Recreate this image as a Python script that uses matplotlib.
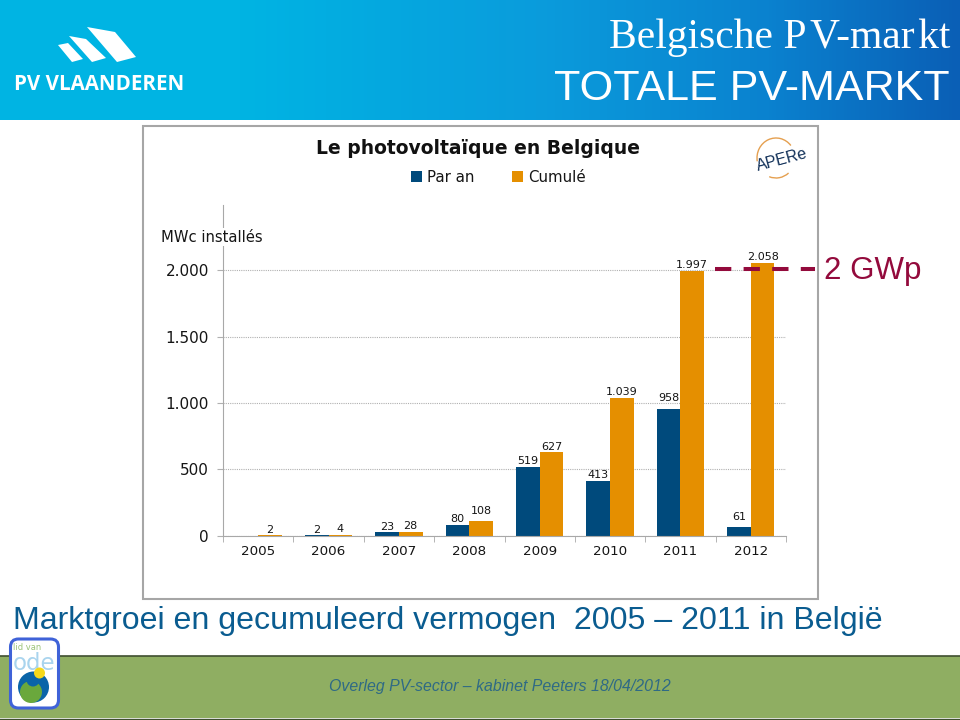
import numpy as np
import matplotlib
matplotlib.use("Agg")
import matplotlib.pyplot as plt
from matplotlib.colors import LinearSegmentedColormap
from matplotlib.patches import Polygon, Rectangle, FancyBboxPatch, Circle, Arc

# ===== data =====
years = ["2005", "2006", "2007", "2008", "2009", "2010", "2011", "2012"]
par_an = [0, 2, 23, 80, 519, 413, 958, 61]
cumule = [2, 4, 28, 108, 627, 1039, 1997, 2058]
y_ticks = [0, 500, 1000, 1500, 2000]
y_tick_labels = ["0", "500", "1.000", "1.500", "2.000"]

NAVY = "#004a7c"
ORANGE = "#e58f00"
TEXT = "#151515"
W, H = 960, 720


def dotted(v):
    return f"{v:,}".replace(",", ".")


fig = plt.figure(figsize=(9.6, 7.2), dpi=100, facecolor="white")

# ===== slide background, pixel coordinates =====
bg = fig.add_axes([0, 0, 1, 1])
bg.axis("off")

cmap = LinearSegmentedColormap.from_list(
    "head", [(0, "#00b4e3"), (0.25, "#00b4e3"), (0.56, "#0a9cdc"), (0.8, "#0a82cf"), (1, "#0a5fb6")])
bg.imshow(np.linspace(0, 1, 256).reshape(1, -1), cmap=cmap, aspect="auto",
          extent=(0, W, 120, 0), zorder=0)
bg.set_xlim(0, W)
bg.set_ylim(H, 0)

# logo
for pts in ([(58, 45), (68, 43), (83, 59), (72, 62)],
            [(69, 36), (86, 39), (106, 58), (92, 62)],
            [(87, 27), (115, 32), (136, 57), (117, 62)]):
    bg.add_patch(Polygon(pts, closed=True, fc="white", ec="none", zorder=2))
bg.text(14, 85, "PV VLAANDEREN", color="white", fontsize=14.8, fontweight="bold",
        family="Open Sans", va="center", ha="left", zorder=2)

bg.text(950, 48, "Belgische P\u200aV-mar\u200akt", color="white", fontsize=29.9,
        family="Liberation Serif", ha="right", va="baseline", zorder=2)
bg.text(950, 100, "TOTALE PV-MARKT", color="white", fontsize=31.1,
        family="Liberation Sans", ha="right", va="baseline", zorder=2)

# chart panel
bg.add_patch(Rectangle((142.5, 126), 675, 473, fc="white", ec="#a6a6a6", lw=1.5, zorder=1))

# subtitle
bg.text(13, 629.5, "Marktgroei en gecumuleerd vermogen  2005 \u2013 2011 in Belgi\u00eb",
        color="#0a5c90", fontsize=23.1, family="Liberation Sans", va="baseline", ha="left")

# footer band
bg.add_patch(Rectangle((0, 656), W, 62, fc="#8fae62", ec="none", zorder=1))
bg.plot([0, W], [656, 656], color="#3f4f30", lw=1.2, zorder=2)
bg.plot([0, W], [718.5, 718.5], color="#3f4f30", lw=1, zorder=2)
bg.text(499.5, 690.7, "Overleg PV-sector \u2013 kabinet Peeters 18/04/2012", color="#2f6a85",
        fontsize=11.4, style="italic", family="Liberation Sans", ha="center", va="baseline", zorder=3)

# ode logo
bg.add_patch(FancyBboxPatch((10.5, 639), 48, 69, boxstyle="round,pad=0,rounding_size=8",
                            fc="white", ec="#3f62d8", lw=2.2, zorder=3))
bg.text(27, 647.5, "lid van", color="#9cc47a", fontsize=6, ha="center", va="center", zorder=4)
bg.text(34, 663, "ode", color="#a9d4ee", fontsize=16.5, ha="center", va="center", zorder=4)
bg.add_patch(Circle((33.5, 687), 15.5, fc="#0a64a8", ec="none", zorder=4))
bg.add_patch(Circle((31, 692), 11, fc="#6aa83c", ec="none", zorder=5))
bg.add_patch(Circle((33, 680), 6.5, fc="#0a64a8", ec="none", zorder=6))
bg.add_patch(Circle((39.5, 673), 5.5, fc="#f6d81a", ec="none", zorder=7))

# APERe logo
bg.add_patch(Arc((776, 158), 38, 40, theta1=170, theta2=320, color="#e5a050", lw=1, zorder=2))
bg.add_patch(Arc((776, 158), 38, 40, theta1=50, theta2=110, color="#e5a050", lw=1, zorder=2))
bg.text(782, 160, "APERe", color="#13325a", fontsize=11.5, rotation=15,
        ha="center", va="center", family="Liberation Sans", zorder=3)

# ===== bar chart =====
y_top = 2494
ax = fig.add_axes([223 / W, 1 - 535.5 / H, (786 - 223) / W, (535.5 - 205) / H])
ax.patch.set_alpha(0)
x = np.arange(len(years))
bar_w = 0.335
ax.bar(x - bar_w / 2, par_an, bar_w, color=NAVY, label="Par an", zorder=3)
ax.bar(x + bar_w / 2, cumule, bar_w, color=ORANGE, label="Cumul\u00e9", zorder=3)

ax.set_xlim(-0.5, len(years) - 0.5)
ax.set_ylim(0, y_top)
ax.set_yticks(y_ticks)
ax.set_yticklabels(y_tick_labels, fontsize=11, color=TEXT)
ax.set_xticks(x)
ax.set_xticklabels(years, fontsize=9.7, color=TEXT)
ax.tick_params(axis="x", length=0, pad=6.5)
ax.tick_params(axis="y", length=4.5, width=0.8, color="#b0b0b0", pad=5.5)
ax.set_xticks(np.arange(len(years) + 1) - 0.5, minor=True)
ax.tick_params(axis="x", which="minor", length=4, color="#a8a8a8", direction="out")
ax.grid(axis="y", linestyle=(0, (1, 1)), color="#b0b0b0", linewidth=0.8, zorder=0)
ax.set_axisbelow(True)
for s in ["top", "right"]:
    ax.spines[s].set_visible(False)
for s in ["left", "bottom"]:
    ax.spines[s].set_color("#a8a8a8")
ax.spines["bottom"].set_zorder(4)

# value labels
raised = {("a", 6), ("a", 7), ("c", 3)}
for i, v in enumerate(par_an):
    if v:
        ax.annotate(dotted(v), (x[i] - bar_w / 2, v), xytext=(0, 7.5 if ("a", i) in raised else 4),
                    textcoords="offset points", ha="center", va="center", fontsize=8, color=TEXT)
for i, v in enumerate(cumule):
    ax.annotate(dotted(v), (x[i] + bar_w / 2, v), xytext=(0, 7.5 if ("c", i) in raised else 4),
                textcoords="offset points", ha="center", va="center", fontsize=8, color=TEXT)

ax.legend(loc="center left", bbox_to_anchor=(411 / W, 1 - 177 / H), bbox_transform=fig.transFigure,
          ncol=2, frameon=False, fontsize=10.8, borderpad=0, borderaxespad=0, handlelength=0.72,
          handleheight=0.7, columnspacing=2.5, handletextpad=0.35, labelcolor=TEXT)

# text on the panel
bg.text(478.5, 149, "Le photovolta\u00efque en Belgique", fontsize=13.5, fontweight="bold",
        color="#111111", ha="center", va="center", zorder=3)

# 2 GWp dashed marker, on top of everything
top = fig.add_axes([0, 0, 1, 1])
top.set_xlim(0, W)
top.set_ylim(H, 0)
top.axis("off")
top.text(161, 237, "MWc install\u00e9s", fontsize=10.6, color=TEXT, ha="left", va="center",
         bbox=dict(fc="white", ec="none", pad=1))
top.plot([715, 815], [269, 269], color="#930a3c", lw=2.9, linestyle=(0, (4.05, 3.05)))
top.text(824, 270.5, "2 GWp", color="#930a3c", fontsize=22.5, family="Liberation Sans", ha="left", va="center")

plt.savefig("out.png", dpi=100)
